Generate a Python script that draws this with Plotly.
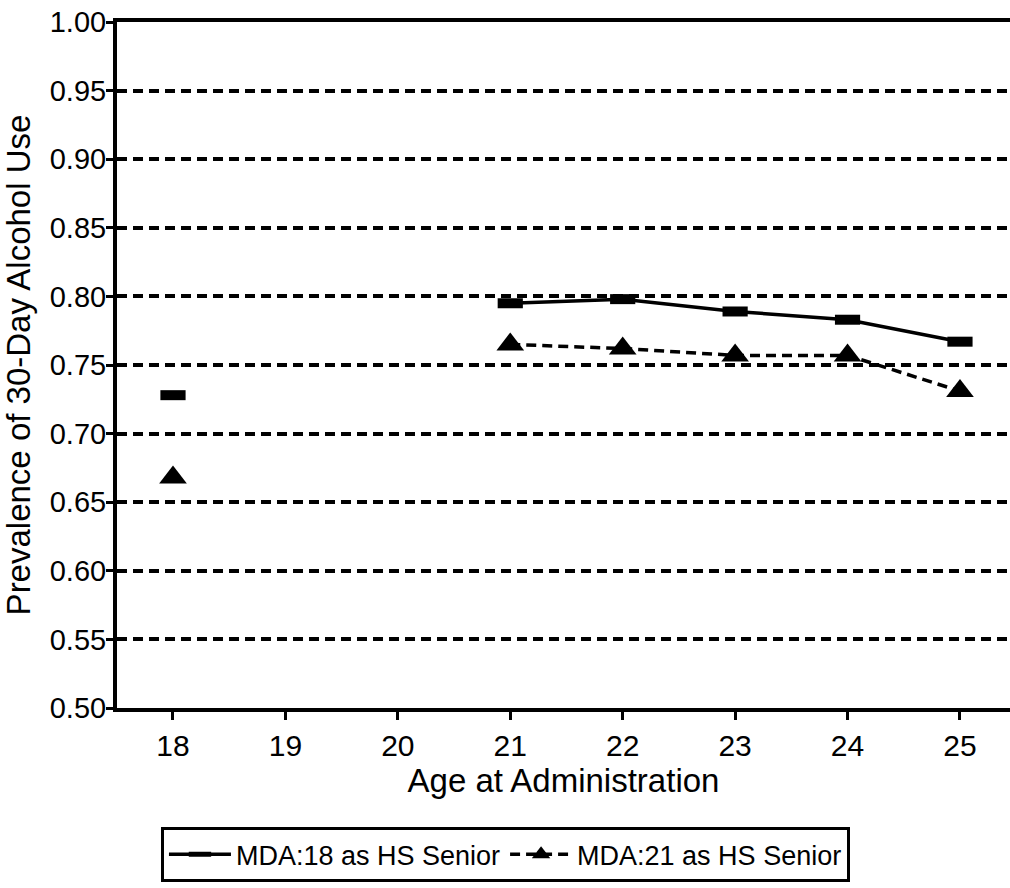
import plotly.graph_objects as go

ages = [18, 19, 20, 21, 22, 23, 24, 25]
mda18 = [0.728, None, None, 0.795, 0.798, 0.789, 0.783, 0.767]
mda21 = [0.668, None, None, 0.765, 0.762, 0.757, 0.757, 0.731]
y_ticks = [0.50, 0.55, 0.60, 0.65, 0.70, 0.75, 0.80, 0.85, 0.90, 0.95, 1.00]
y_tick_labels = ["0.50", "0.55", "0.60", "0.65", "0.70", "0.75", "0.80", "0.85", "0.90", "0.95", "1.00"]
series_names = ["MDA:18 as HS Senior", "MDA:21 as HS Senior"]

FONT = "Liberation Sans, Arial, sans-serif"

fig = go.Figure()
fig.add_trace(go.Scatter(
    x=ages, y=mda18, name=series_names[0], mode="lines+markers",
    connectgaps=False,
    line=dict(color="black", width=3.5),
    marker=dict(symbol="line-ew", size=18, color="black",
                line=dict(color="black", width=10)),
))
fig.add_trace(go.Scatter(
    x=ages, y=mda21, name=series_names[1], mode="lines+markers",
    connectgaps=False,
    line=dict(color="black", width=3.5, dash="10px,6px"),
    marker=dict(symbol="triangle-up", size=24, color="black"),
))

fig.update_layout(
    width=1010, height=888,
    margin=dict(l=117, r=0, t=22, b=180),
    paper_bgcolor="white", plot_bgcolor="white",
    font=dict(family=FONT, color="black", size=30),
    showlegend=True,
    legend=dict(
        orientation="h", x=0.435, xanchor="center", y=-0.214, yanchor="middle",
        bordercolor="black", borderwidth=3, bgcolor="white",
        font=dict(size=27, family=FONT, color="black"),
        itemwidth=62, tracegroupgap=0,
    ),
    xaxis=dict(
        range=[17.502, 25.445],
        tickmode="array", tickvals=ages, ticktext=[str(a) for a in ages],
        showline=True, linecolor="black", linewidth=4, mirror=True,
        ticks="outside", ticklen=8, tickwidth=3, tickcolor="black",
        showgrid=False, zeroline=False,
        tickfont=dict(size=30),
        title=dict(text="Age at Administration", font=dict(size=33), standoff=0),
    ),
    yaxis=dict(
        range=[0.5, 1.0],
        tickmode="array", tickvals=y_ticks, ticktext=y_tick_labels,
        showline=True, linecolor="black", linewidth=4,
        ticks="outside", ticklen=7, tickwidth=3, tickcolor="black",
        showgrid=True, gridcolor="black", gridwidth=3.5, griddash="10px,6px",
        zeroline=False,
        tickfont=dict(size=29),
        ticklabelstandoff=-6,
        title=dict(text="Prevalence of 30-Day Alcohol Use", font=dict(size=33), standoff=14),
    ),
)

fig.write_html("out.html")
